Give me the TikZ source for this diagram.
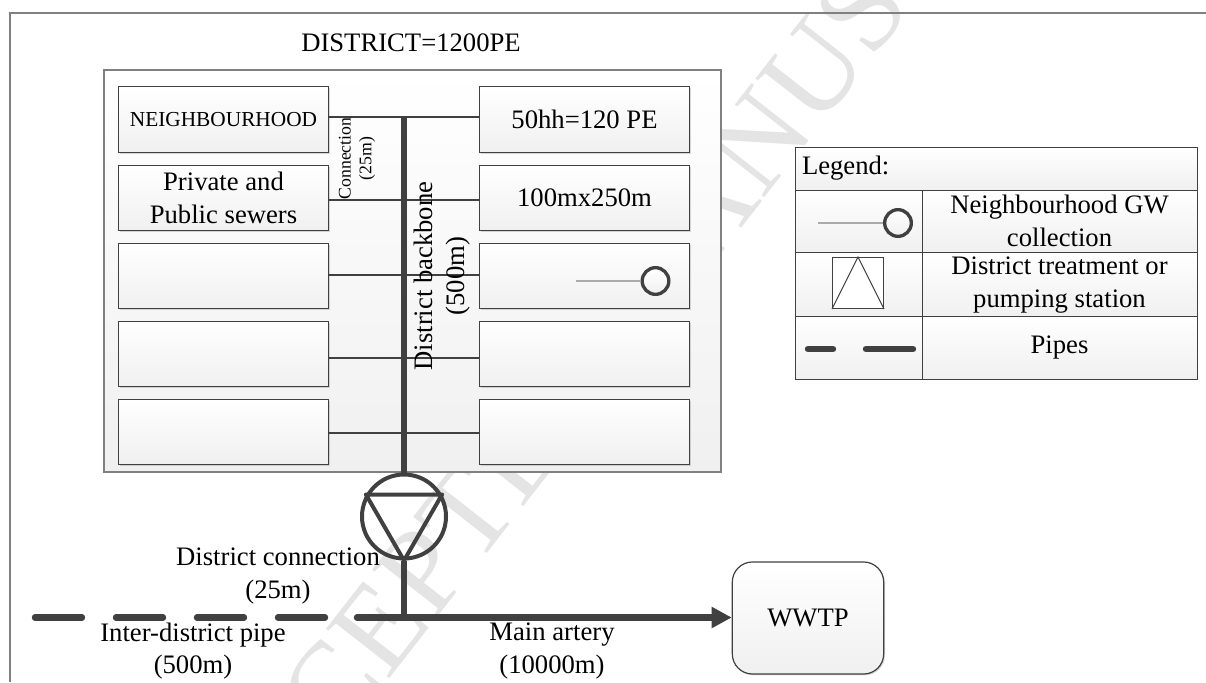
\documentclass[tikz,border=0pt]{standalone}
\usepackage{fontspec}
\setmainfont{Liberation Serif}
\usetikzlibrary{arrows.meta, shadows}
\definecolor{pipegray}{RGB}{64, 64, 64}
\definecolor{framegray}{RGB}{128, 128, 128}
\definecolor{markgray}{RGB}{228, 228, 228}
\definecolor{stubgray}{RGB}{170, 170, 170}
\definecolor{boxend}{RGB}{240, 240, 240}

\begin{document}
\begin{tikzpicture}[
  x=0.75pt, y=-0.75pt,
  lbl/.style={font=\fontsize{20}{24.5}\selectfont, align=center, inner sep=0pt},
  box/.style={draw=pipegray, line width=0.9pt, top color=white, bottom color=boxend, inner sep=0pt,
              drop shadow={shadow xshift=1pt, shadow yshift=-1pt, opacity=0.3, fill=gray}},
  subbox/.style={box, lbl, minimum width=157pt, minimum height=49pt},
  legcell/.style={draw=pipegray, line width=0.7pt, top color=white, bottom color=boxend, lbl},
  conn/.style={draw=pipegray, line width=1.9pt},
  pipe/.style={draw=pipegray, line width=4.8pt},
  stub/.style={draw=stubgray, line width=1.1pt},
  hub/.style={circle, draw=pipegray, line width=2.5pt, top color=white, bottom color=boxend,
              minimum size=20pt, inner sep=0pt}
]
  \useasboundingbox (0,0) rectangle (1206,682);
  \begin{scope}
    \clip (0,0) rectangle (1206,682);
    \node[text=markgray, font=\fontsize{92}{92}\selectfont, rotate=52, anchor=base west, inner sep=0pt]
      (stamp) at (232,880) {ACCEPTED MANUSCRIPT};
  \end{scope}
  \draw[framegray, line width=1.3pt] (10,682) -- (10,13) -- (1206,13);

  \node[lbl] (title) at (411,43) {DISTRICT=1200PE};
  \node[box, draw=framegray, minimum width=462.75pt, minimum height=301.5pt] (district) at (412.5,271) {};

  % neighbourhood boxes
  \node[subbox, font=\fontsize{16}{20}\selectfont] (lbox1) at (223.5,119.5) {NEIGHBOURHOOD};
  \node[subbox] (lbox2) at (223.5,198) {Private and\\Public sewers};
  \node[subbox] (rbox1) at (584.5,119.5) {50hh=120 PE};
  \node[subbox] (rbox2) at (584.5,198) {100mx250m};
  \foreach \i/\y in {3/276, 4/354, 5/432} {
    \node[subbox] (lbox\i) at (223.5,\y) {};
    \node[subbox] (rbox\i) at (584.5,\y) {};
  }
  \foreach \i/\y in {1/117, 2/200, 3/275, 4/358, 5/433} {
    \draw[conn] (lbox\i.east |- 0,\y) -- (rbox\i.west |- 0,\y);
  }

  % stub inside the third box
  \node[hub] (hubbox) at (655.5,281) {};
  \coordinate (stubbox) at (576,281);
  \draw[stub] (stubbox) -- (hubbox);

  % backbone and pump
  \node[circle, draw=pipegray, line width=3pt, minimum size=63pt, inner sep=0pt] (pump) at (404,516.5) {};
  \coordinate (bbtop) at (404,117);
  \coordinate (junct) at (404,617.5);
  \draw[pipe] (bbtop) -- (pump.north);
  \draw[draw=pipegray, line width=3pt, line join=round] (pump.150) -- (pump.30) -- (pump.south) -- cycle;
  \draw[draw=pipegray, line width=4.3pt] (pump.south) -- (junct);

  \node[lbl, font=\fontsize{13.3}{15.5}\selectfont, rotate=90] (connlbl) at (357,158.5) {Connection\\(25m)};
  \node[lbl, rotate=90] (bblbl) at (442,276) {District backbone\\(500m)};

  % main pipes
  \node[box, rounded corners=15pt, lbl, minimum width=113.5pt, minimum height=84pt] (wwtp) at (808,618) {WWTP};
  \coordinate (artstart) at (357,617.5);
  \coordinate (ipstart) at (35,617.5);
  \coordinate (ipend) at (325,617.5);
  \draw[pipe, line cap=round, dash pattern=on 35.25pt off 25.5pt] (ipstart) -- (ipend);
  \draw[pipe, line cap=round] (artstart) -- (junct);
  \draw[pipe, -{Triangle[length=15pt, width=15pt]}] (junct) -- (junct -| wwtp.west);

  \node[lbl] (dclbl) at (278,576) {District connection\\(25m)};
  \node[lbl] (iplbl) at (193,651) {Inter-district pipe\\(500m)};
  \node[lbl] (malbl) at (552,651) {Main artery\\(10000m)};

  % legend
  \node[legcell, minimum width=301.5pt, minimum height=32.25pt, text width=291pt, align=left] (leghead) at (996,168.5) {Legend:};
  \foreach \n/\y/\h in {a/221/46.5, b/284/48, c/347.5/47.25} {
    \node[legcell, minimum width=95.25pt, minimum height=\h pt] (legl\n) at (858.5,\y) {};
    \node[legcell, minimum width=206.25pt, minimum height=\h pt] (legr\n) at (1059.5,\y) {};
  }
  \node[lbl] (legta) at (1059.5,221) {Neighbourhood GW\\collection};
  \node[lbl] (legtb) at (1059.5,285) {District treatment or\\pumping station};
  \node[lbl] (legtc) at (1059.5,348) {Pipes};
  \node[hub] (leghub) at (898,223) {};
  \coordinate (legstub) at (818,223);
  \draw[stub] (legstub) -- (leghub);
  \node[draw=pipegray, line width=0.8pt, fill=white, minimum size=38.25pt, inner sep=0pt] (legsq) at (858,283) {};
  \draw[draw=pipegray, line width=0.8pt] (legsq.south west) -- (legsq.north) -- (legsq.south east);
  \coordinate (legpa) at (808,349);
  \coordinate (legpb) at (833,349);
  \coordinate (legpc) at (866,349);
  \coordinate (legpd) at (913,349);
  \draw[pipe, line cap=round] (legpa) -- (legpb);
  \draw[pipe, line cap=round] (legpc) -- (legpd);
\end{tikzpicture}
\end{document}
